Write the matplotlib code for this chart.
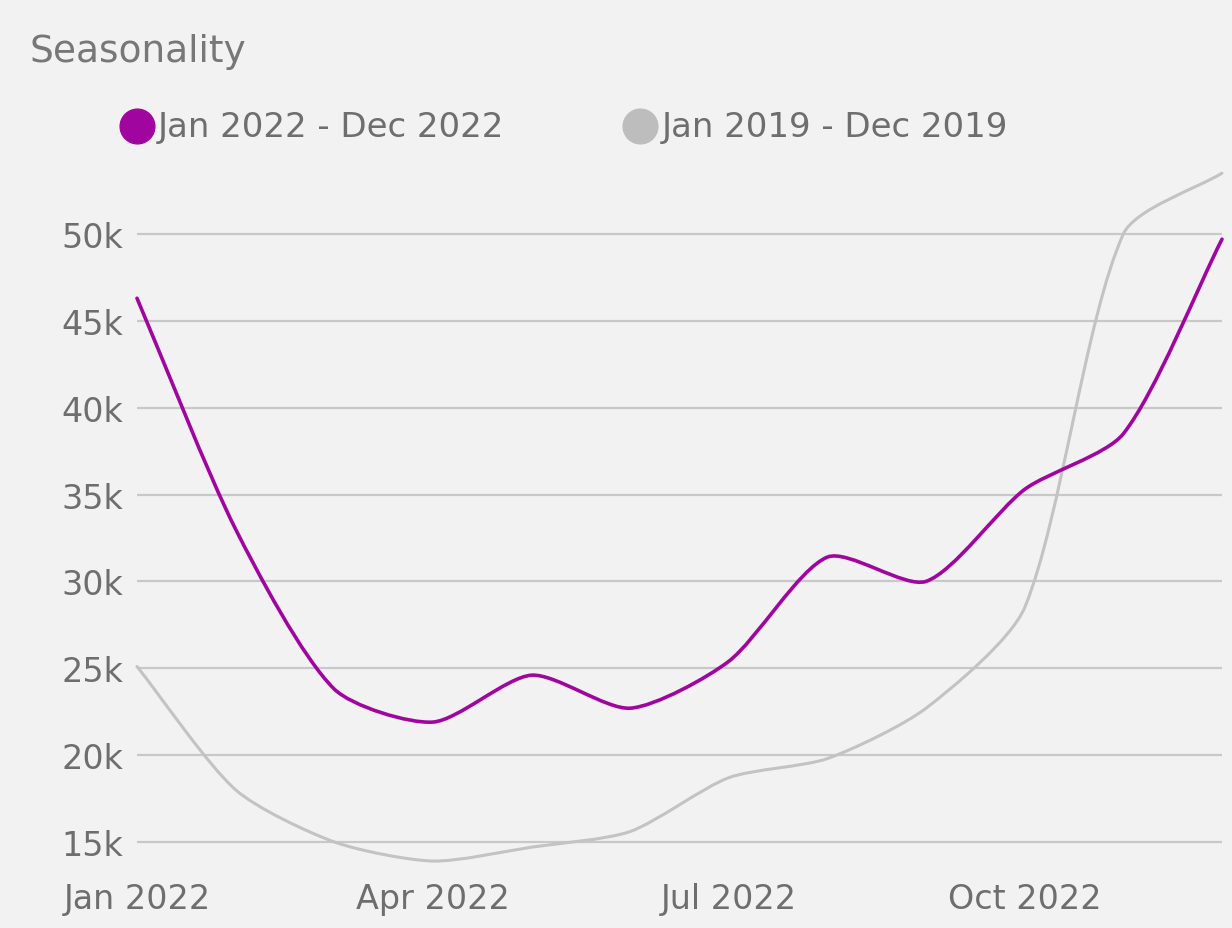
import numpy as np
import matplotlib
matplotlib.use("Agg")
import matplotlib.pyplot as plt
from matplotlib.path import Path
from matplotlib.patches import PathPatch
from matplotlib.lines import Line2D

# monthly values, thousands
months = ["Jan", "Feb", "Mar", "Apr", "May", "Jun",
          "Jul", "Aug", "Sep", "Oct", "Nov", "Dec"]
sales_2022 = [46.3, 33.0, 23.8, 21.9, 24.6, 22.7, 25.4, 31.4, 30.0, 35.3, 38.5, 49.7]
sales_2019 = [25.1, 18.0, 15.0, 13.9, 14.7, 15.6, 18.7, 19.8, 22.7, 28.5, 50.0, 53.5]
series_labels = ["Jan 2022 - Dec 2022", "Jan 2019 - Dec 2019"]
xtick_pos = [0, 3, 6, 9]
xtick_labels = ["Jan 2022", "Apr 2022", "Jul 2022", "Oct 2022"]
ytick_vals = [15, 20, 25, 30, 35, 40, 45, 50]

PURPLE = "#a0069f"
GREY = "#c3c3c3"
BG = "#f2f2f2"
TXT = "#6e6e6e"
FONT = "DejaVu Sans"


def spline_path(ax, xs, ys, tension=0.25):
    """Smooth path through the points, control points worked out in screen space."""
    pts = ax.transData.transform(np.column_stack([xs, ys]))
    n = len(pts)
    ctrl_prev = np.zeros_like(pts)
    ctrl_next = np.zeros_like(pts)
    for i in range(n):
        prv = pts[max(i - 1, 0)]
        cur = pts[i]
        nxt = pts[min(i + 1, n - 1)]
        d01 = np.hypot(*(cur - prv))
        d12 = np.hypot(*(nxt - cur))
        tot = d01 + d12
        fa = tension * d01 / tot
        fb = tension * d12 / tot
        ctrl_prev[i] = cur - fa * (nxt - prv)
        ctrl_next[i] = cur + fb * (nxt - prv)
    verts = [pts[0]]
    codes = [Path.MOVETO]
    for i in range(n - 1):
        verts += [ctrl_next[i], ctrl_prev[i + 1], pts[i + 1]]
        codes += [Path.CURVE4] * 3
    verts = ax.transData.inverted().transform(np.array(verts))
    return Path(verts, codes)


W, H = 1232, 929
fig = plt.figure(figsize=(W / 100, H / 100), dpi=100, facecolor=BG)
ax = fig.add_axes([137 / W, (H - 869) / H, (1222 - 137) / W, (869 - 170) / H])
ax.set_facecolor(BG)

x = np.arange(len(months))
ax.set_xlim(0, len(months) - 1)
ax.set_ylim(13.5, 53.74)

for v in ytick_vals:
    ax.axhline(v, color="#c8c8c8", lw=1.6, zorder=1)

ax.add_patch(PathPatch(spline_path(ax, x, sales_2019), fill=False, ec=GREY,
                       lw=2.2, zorder=2, clip_on=False, capstyle="round"))
ax.add_patch(PathPatch(spline_path(ax, x, sales_2022), fill=False, ec=PURPLE,
                       lw=2.6, zorder=3, clip_on=False, capstyle="round"))

ax.set_yticks(ytick_vals)
ax.set_yticklabels([f"{v}k" for v in ytick_vals])
ax.set_xticks(xtick_pos)
ax.set_xticklabels(xtick_labels)
ax.tick_params(axis="both", length=0, labelsize=24, labelcolor=TXT)
ax.tick_params(axis="y", pad=10)
ax.tick_params(axis="x", pad=10)
for lab in ax.get_xticklabels() + ax.get_yticklabels():
    lab.set_family(FONT)
for sp in ax.spines.values():
    sp.set_visible(False)

fig.text(30 / W, 1 - 52 / H, "Seasonality", family=FONT, fontsize=27,
         color="#777777", va="center", ha="left")

# legend
for (cx, tx), lab, col in zip([(137, 158), (640, 662)], series_labels, [PURPLE, "#bdbdbd"]):
    fig.add_artist(Line2D([cx / W], [1 - 127 / H], marker="o", ms=25,
                          color=col, mec=col, transform=fig.transFigure))
    fig.text(tx / W, 1 - 127 / H, lab, family=FONT, fontsize=24.5,
             color=TXT, va="center", ha="left")

fig.savefig("out.png", dpi=100, facecolor=BG)
